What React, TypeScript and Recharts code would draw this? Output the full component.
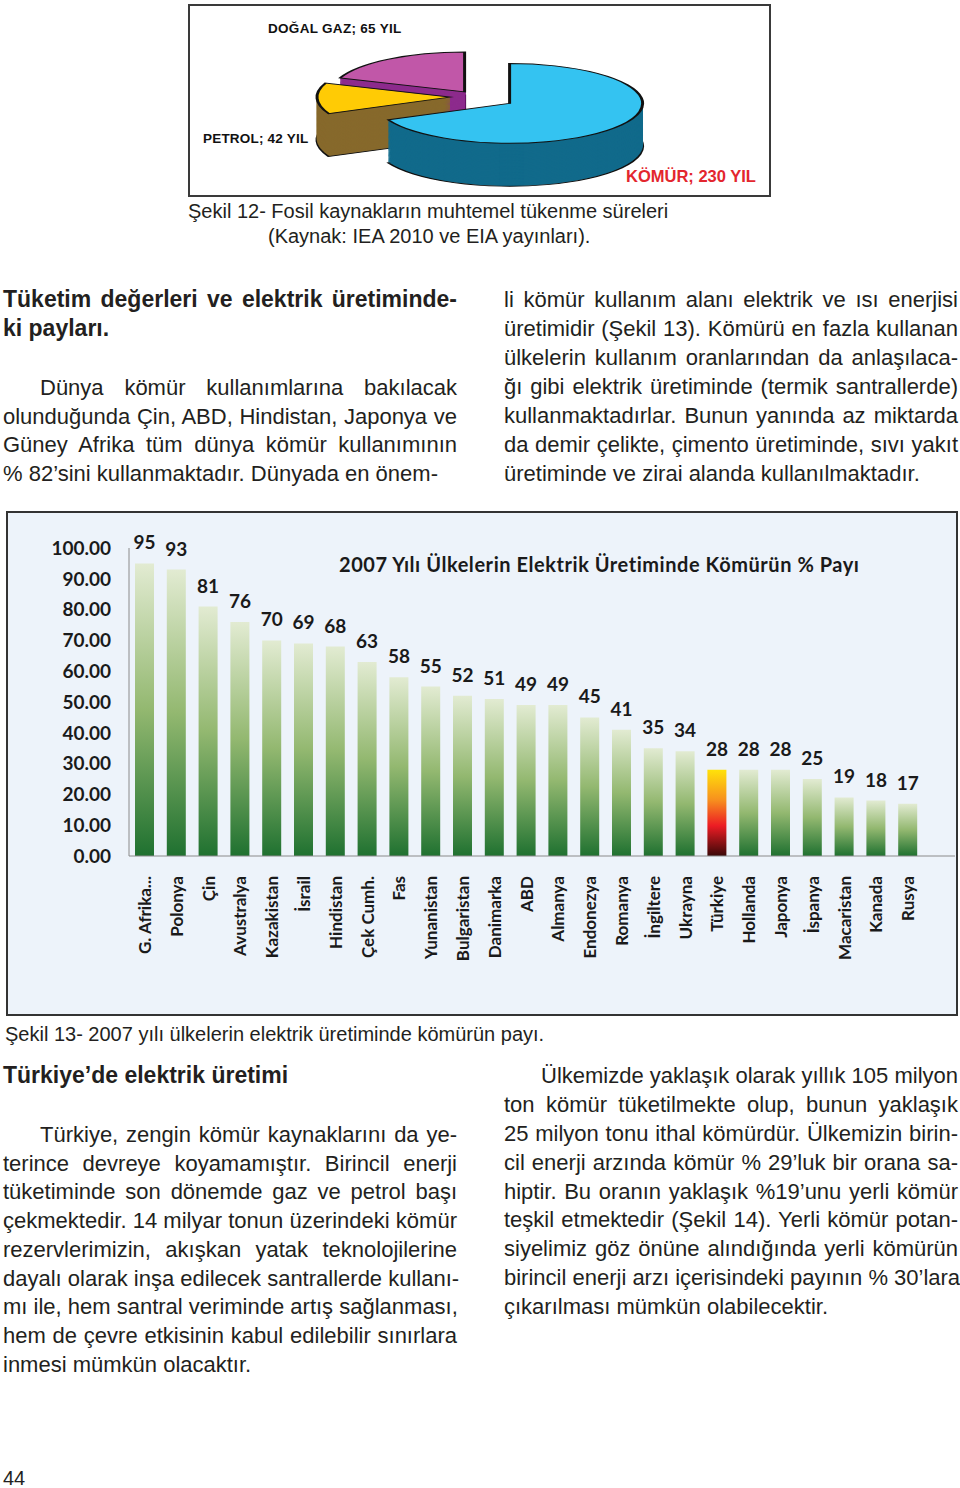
import { BarChart, Bar, XAxis, YAxis, Cell, LabelList, PieChart, Pie } from 'recharts'

// Şekil 12 – fossil reserve lifetimes (years)
const fuelNames = ['KÖMÜR', 'PETROL', 'DOĞAL GAZ']
const fuelYears = [230, 42, 65]
const fuelTop = ['#34C3F1', '#FFCB05', '#C157A8']
const fuelSide = ['#116A8B', '#87692C', '#8D2B8D']
const fuelLabelColor = ['#E3262E', '#111', '#111']

// Şekil 13 – coal share in electricity generation, 2007
const countries = [
  'G. Afrika...', 'Polonya', 'Çin', 'Avustralya', 'Kazakistan', 'İsrail', 'Hindistan', 'Çek Cumh.',
  'Fas', 'Yunanistan', 'Bulgaristan', 'Danimarka', 'ABD', 'Almanya', 'Endonezya', 'Romanya',
  'İngiltere', 'Ukrayna', 'Türkiye', 'Hollanda', 'Japonya', 'İspanya', 'Macaristan', 'Kanada', 'Rusya',
]
const coalShare = [95, 93, 81, 76, 70, 69, 68, 63, 58, 55, 52, 51, 49, 49, 45, 41, 35, 34, 28, 28, 28, 25, 19, 18, 17]
const yTicks = [0, 10, 20, 30, 40, 50, 60, 70, 80, 90, 100]
const highlight = 'Türkiye'

const barTitle = '2007 Yılı Ülkelerin Elektrik Üretiminde Kömürün % Payı'

// page text, line by line as printed
const topHeading = ['Tüketim değerleri ve elektrik üretiminde-', 'ki payları.']
const topLeft = [
  'Dünya kömür kullanımlarına bakılacak',
  'olunduğunda Çin, ABD, Hindistan, Japonya ve',
  'Güney Afrika tüm dünya kömür kullanımının',
  '% 82’sini kullanmaktadır. Dünyada en önem-',
]
const topRight = [
  'li kömür kullanım alanı elektrik ve ısı enerjisi',
  'üretimidir (Şekil 13). Kömürü en fazla kullanan',
  'ülkelerin kullanım oranlarından da anlaşılaca-',
  'ğı gibi elektrik üretiminde (termik santrallerde)',
  'kullanmaktadırlar. Bunun yanında az miktarda',
  'da demir çelikte, çimento üretiminde, sıvı yakıt',
  'üretiminde ve zirai alanda kullanılmaktadır.',
]
const bottomHeading = 'Türkiye’de elektrik üretimi'
const bottomLeft = [
  'Türkiye, zengin kömür kaynaklarını da ye-',
  'terince devreye koyamamıştır. Birincil enerji',
  'tüketiminde son dönemde gaz ve petrol başı',
  'çekmektedir. 14 milyar tonun üzerindeki kömür',
  'rezervlerimizin, akışkan yatak teknolojilerine',
  'dayalı olarak inşa edilecek santrallerde kullanı-',
  'mı ile, hem santral veriminde artış sağlanması,',
  'hem de çevre etkisinin kabul edilebilir sınırlara',
  'inmesi mümkün olacaktır.',
]
const bottomRight = [
  'Ülkemizde yaklaşık olarak yıllık 105 milyon',
  'ton kömür tüketilmekte olup, bunun yaklaşık',
  '25 milyon tonu ithal kömürdür. Ülkemizin birin-',
  'cil enerji arzında kömür % 29’luk bir orana sa-',
  'hiptir. Bu oranın yaklaşık %19’unu yerli kömür',
  'teşkil etmektedir (Şekil 14). Yerli kömür potan-',
  'siyelimiz göz önüne alındığında yerli kömürün',
  'birincil enerji arzı içerisindeki payının % 30’lara',
  'çıkarılması mümkün olabilecektir.',
]

const TEXT = '#231F20'
const SANS = '"Liberation Sans", Arial, sans-serif'
const CAL = 'Lato, "Open Sans", sans-serif'

// pie geometry (unscaled, squashed by CSS to look like a tilted disc)
const SQUASH = 0.3
const PIE_CX = 281
const PIE_CY = 298
const PIE_R = 133
const PIE_DEPTH = 143
const EXPLODE = [40, 26, 20]

const fuelTotal = fuelYears.reduce((a, b) => a + b, 0)
const fuelSlices = fuelNames.map((name, i) => {
  const before = fuelYears.slice(0, i).reduce((a, b) => a + b, 0)
  const start = 90 - (360 * before) / fuelTotal
  const end = 90 - (360 * (before + fuelYears[i])) / fuelTotal
  const mid = (((start + end) / 2) * Math.PI) / 180
  return { name, value: fuelYears[i], start, end, dx: EXPLODE[i] * Math.cos(mid), dy: -EXPLODE[i] * Math.sin(mid) }
})
const drawOrder = [2, 1, 0]
const layers: number[] = []
for (let d = PIE_DEPTH; d > 0; d -= 4) layers.push(d)

const barData = countries.map((country, i) => ({ country, share: coalShare[i] }))

function TextLine({ text, x, cy, w, size = 22, bold = false, justify = true, indent = 0 }:
  { text: string; x: number; cy: number; w: number; size?: number; bold?: boolean; justify?: boolean; indent?: number }) {
  return (
    <div style={{
      position: 'absolute', left: x, top: cy - 0.637 * size, width: w, boxSizing: 'border-box',
      paddingLeft: indent, fontSize: size, lineHeight: `${size * 1.3}px`, fontWeight: bold ? 700 : 400,
      textAlign: justify ? 'justify' : 'left', textAlignLast: justify ? 'justify' : 'left', whiteSpace: 'nowrap',
    }}>{text}</div>
  )
}

function Paragraph({ lines, x, y0, step, indent }: { lines: string[]; x: number; y0: number; step: number; indent: number }) {
  return (
    <>
      {lines.map((t, i) => (
        <TextLine key={i} text={t} x={x} cy={y0 + i * step} w={454} indent={i === 0 ? indent : 0} justify={i < lines.length - 1} />
      ))}
    </>
  )
}

function CountryTick({ x, y, payload }: any) {
  return (
    <text x={x} y={y} dy="0.36em" transform={`rotate(-90, ${x}, ${y})`} textAnchor="end"
      fontFamily={CAL} fontSize={17} fontWeight={700} fill="#1a1a1a">{payload.value}</text>
  )
}

function FuelPie() {
  return (
    <div style={{ position: 'absolute', left: 188, top: 4, width: 583, height: 193, boxSizing: 'border-box', border: '2px solid #3a3a3a', background: '#fff' }}>
      <div style={{ position: 'absolute', left: 0, top: 0, transform: `scaleY(${SQUASH})`, transformOrigin: '0 0' }}>
        <PieChart width={579} height={625}>
          {layers.map(d => drawOrder.map(i => {
            const s = fuelSlices[i]
            return (
              <Pie key={`${d}-${i}`} data={[s]} dataKey="value" cx={PIE_CX + s.dx} cy={PIE_CY + s.dy + d}
                outerRadius={PIE_R} startAngle={s.start} endAngle={s.end} fill={fuelSide[i]}
                stroke={d === PIE_DEPTH ? '#111' : fuelSide[i]} strokeWidth={d === PIE_DEPTH ? 3 : 1}
                isAnimationActive={false} />
            )
          }))}
          {drawOrder.map(i => {
            const s = fuelSlices[i]
            return (
              <Pie key={`top-${i}`} data={[s]} dataKey="value" cx={PIE_CX + s.dx} cy={PIE_CY + s.dy}
                outerRadius={PIE_R} startAngle={s.start} endAngle={s.end} fill={fuelTop[i]}
                stroke="#111" strokeWidth={3} isAnimationActive={false} />
            )
          })}
        </PieChart>
      </div>
    </div>
  )
}

const fuelLabelPos = [
  { left: 626, cy: 177, size: 16.5, ls: 0 },
  { left: 203, cy: 139, size: 13.5, ls: 0.2 },
  { left: 268, cy: 29, size: 13.5, ls: 0.3 },
]

export default function App() {
  return (
    <div style={{ position: 'absolute', left: 0, top: 0, width: 960, height: 1488, background: '#fff', fontFamily: SANS, color: TEXT, overflow: 'hidden' }}>
      <FuelPie />
      {fuelNames.map((n, i) => (
        <div key={n} style={{
          position: 'absolute', left: fuelLabelPos[i].left, top: fuelLabelPos[i].cy - fuelLabelPos[i].size * 0.65,
          fontSize: fuelLabelPos[i].size, lineHeight: `${fuelLabelPos[i].size * 1.3}px`, fontWeight: 700,
          color: fuelLabelColor[i], whiteSpace: 'nowrap', letterSpacing: fuelLabelPos[i].ls,
        }}>{`${n}; ${fuelYears[i]} YIL`}</div>
      ))}
      <TextLine text="Şekil 12- Fosil kaynakların muhtemel tükenme süreleri" x={188} cy={211} w={600} size={20} justify={false} />
      <TextLine text="(Kaynak: IEA 2010 ve EIA yayınları)." x={268} cy={236} w={500} size={20} justify={false} />

      <TextLine text={topHeading[0]} x={3} cy={300} w={454} size={23} bold />
      <TextLine text={topHeading[1]} x={3} cy={329} w={454} size={23} bold justify={false} />
      <Paragraph lines={topLeft} x={3} y0={388} step={28.7} indent={37} />
      <Paragraph lines={topRight} x={504} y0={300} step={29} indent={0} />

      <div style={{ position: 'absolute', left: 6, top: 511, width: 952, height: 505, boxSizing: 'border-box', border: '2px solid #333', background: '#EDF3FA' }} />
      <div style={{ position: 'absolute', left: 339, top: 551, fontFamily: CAL, fontSize: 20, lineHeight: '26px', fontWeight: 700, letterSpacing: 0.55, color: '#1a1a1a', whiteSpace: 'nowrap' }}>{barTitle}</div>
      <div style={{ position: 'absolute', left: 0, top: 500 }}>
        <BarChart width={960} height={508} data={barData} margin={{ top: 48, right: 5, left: 0, bottom: 0 }}>
          <defs>
            <linearGradient id="greenBar" x1="0" y1="0" x2="0" y2="1">
              <stop offset="0%" stopColor="#E2EBD2" />
              <stop offset="50%" stopColor="#93B870" />
              <stop offset="100%" stopColor="#1F7130" />
            </linearGradient>
            <linearGradient id="turkBar" x1="0" y1="0" x2="0" y2="1">
              <stop offset="0%" stopColor="#FFE20A" />
              <stop offset="35%" stopColor="#F7901E" />
              <stop offset="65%" stopColor="#EC1C24" />
              <stop offset="100%" stopColor="#3A0808" />
            </linearGradient>
          </defs>
          <XAxis dataKey="country" interval={0} tick={(p: any) => <CountryTick {...p} />} tickLine={false} tickSize={0} tickMargin={20}
            axisLine={{ stroke: '#8a8a8a' }} height={152} padding={{ left: 0, right: 31 }} />
          <YAxis domain={[0, 100]} ticks={yTicks} interval={0} width={129} tickLine={false} tickSize={0} tickMargin={18}
            axisLine={{ stroke: '#8a8a8a' }} tickFormatter={(v: number) => v.toFixed(2)}
            tick={{ fontFamily: CAL, fontSize: 19, fontWeight: 700, fill: '#1a1a1a' }} />
          <Bar dataKey="share" barSize={19} isAnimationActive={false}>
            {barData.map(d => (
              <Cell key={d.country} fill={d.country === highlight ? 'url(#turkBar)' : 'url(#greenBar)'} />
            ))}
            <LabelList dataKey="share" position="top" offset={14}
              style={{ fontFamily: CAL, fontSize: 19, fontWeight: 700, fill: '#1a1a1a' }} />
          </Bar>
        </BarChart>
      </div>
      <TextLine text="Şekil 13- 2007 yılı ülkelerin elektrik üretiminde kömürün payı." x={5} cy={1034} w={700} size={20} justify={false} />

      <TextLine text={bottomHeading} x={3} cy={1076} w={454} size={23} bold justify={false} />
      <Paragraph lines={bottomLeft} x={3} y0={1135} step={28.75} indent={37} />
      <Paragraph lines={bottomRight} x={504} y0={1076} step={28.9} indent={37} />

      <TextLine text="44" x={3} cy={1478} w={100} size={20} justify={false} />
    </div>
  )
}
